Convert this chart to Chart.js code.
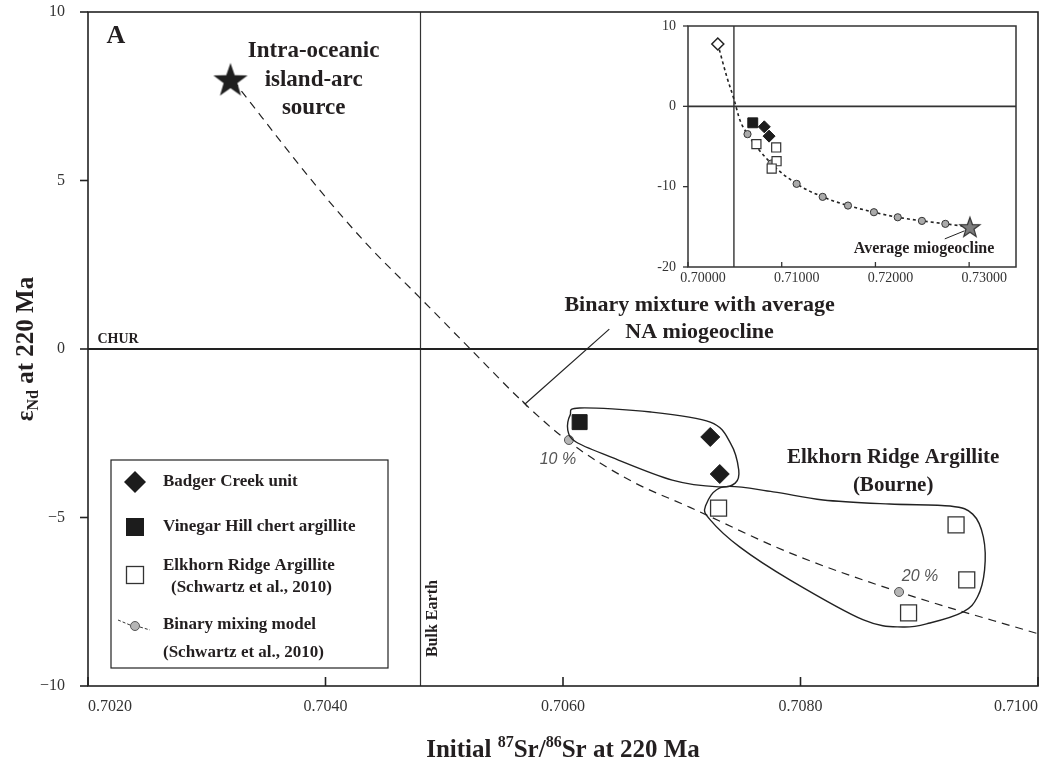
<!DOCTYPE html>
<html><head><meta charset="utf-8">
<script src="https://cdn.jsdelivr.net/npm/chart.js@4.4.1/dist/chart.umd.min.js"></script>
<style>
html,body{margin:0;padding:0;background:#fff;}
#wrap{position:relative;width:1053px;height:766px;overflow:hidden;}
#main{position:absolute;left:0;top:0;}
#inset{position:absolute;left:640px;top:0;}
</style></head><body>
<div id="wrap"><canvas id="main" width="1053" height="766"></canvas><canvas id="inset" width="400" height="300"></canvas></div>
<script>
// ================= DATA: main panel =================
const xTicks = [0.702, 0.704, 0.706, 0.708, 0.710];
const yTicks = [-10, -5, 0, 5, 10];
const sourceSr = [0.7032];
const sourceNd = [8.0];
const badgerSr = [0.70724, 0.70732];
const badgerNd = [-2.61, -3.71];
const vinegarSr = [0.70614];
const vinegarNd = [-2.17];
const elkhornSr = [0.70731, 0.70931, 0.70940, 0.70891];
const elkhornNd = [-4.72, -5.22, -6.85, -7.83];
const mixSr = [0.70605, 0.70883];
const mixNd = [-2.70, -7.21];
const mixLabels = ['10 %', '20 %'];
const curveSr = [0.70322, 0.70395, 0.70437, 0.70479, 0.70522, 0.70568, 0.70604, 0.70656, 0.70707, 0.70791, 0.70883, 0.71000];
const curveNd = [7.98, 4.72, 3.03, 1.54, 0.00, -1.63, -2.73, -3.89, -4.70, -6.05, -7.21, -8.45];
const churNd = 0;
const bulkEarthSr = 0.7048;
const loopBadgerSr = [0.70606, 0.70614, 0.70674, 0.70724, 0.70741, 0.70748, 0.70745, 0.70731, 0.70692, 0.70640, 0.70611, 0.70604];
const loopBadgerNd = [-1.96, -1.75, -1.87, -2.17, -2.79, -3.59, -3.98, -4.09, -3.89, -3.20, -2.76, -2.40];
const loopElkhornSr = [0.70720, 0.70735, 0.70777, 0.70819, 0.70875, 0.70926, 0.70945, 0.70954, 0.70955, 0.70949, 0.70937, 0.70909, 0.70886, 0.70853, 0.70791, 0.70749, 0.70724];
const loopElkhornNd = [-4.66, -4.09, -4.24, -4.48, -4.60, -4.66, -4.90, -5.58, -6.56, -7.36, -7.80, -8.13, -8.25, -8.04, -6.85, -5.88, -5.07];

// ================= DATA: inset =================
const insetXTicks = [0.70, 0.71, 0.72, 0.73];
const insetYTicks = [-20, -10, 0, 10];
const insetSourceSr = [0.70318];
const insetSourceNd = [7.76];
const insetVinegarSr = [0.70691];
const insetVinegarNd = [-2.05];
const insetBadgerSr = [0.70814, 0.70865];
const insetBadgerNd = [-2.55, -3.71];
const insetElkhornSr = [0.70730, 0.70941, 0.70945, 0.70893];
const insetElkhornNd = [-4.71, -5.12, -6.83, -7.74];
const insetMixSr = [0.70635, 0.70889, 0.71159, 0.71437, 0.71707, 0.71984, 0.72238, 0.72496, 0.72746];
const insetMixNd = [-3.46, -7.12, -9.65, -11.27, -12.35, -13.18, -13.81, -14.26, -14.63];
const insetMioSr = [0.73008];
const insetMioNd = [-15.01];
const insetCurveSr = [0.70318, 0.70416, 0.70491, 0.70555, 0.70635, 0.70889, 0.71159, 0.71437, 0.71707, 0.71984, 0.72238, 0.72496, 0.72746, 0.73008];
const insetCurveNd = [7.76, 3.6, 0.87, -1.74, -3.46, -7.12, -9.65, -11.27, -12.35, -13.18, -13.81, -14.26, -14.63, -15.01];
const insetBulkSr = 0.7049;
const insetChurNd = 0;

// ================= helpers =================
const SERIF = '"Liberation Serif", "Times New Roman", serif';
const SANS = '"Liberation Sans", Arial, sans-serif';
const INK = '#231f20';
Chart.defaults.font.family = SERIF;
const pts = (xs, ys) => xs.map((x, i) => ({x: x, y: ys[i]}));

function starCanvas(R, fill, stroke, lw) {
  const s = Math.ceil(2 * R + 2 * lw + 2);
  const c = document.createElement('canvas');
  c.width = s; c.height = s;
  const g = c.getContext('2d');
  const cx = s / 2, cy = s / 2 + R * 0.09;
  g.beginPath();
  for (let i = 0; i < 10; i++) {
    const r = i % 2 === 0 ? R : R * 0.40;
    const a = -Math.PI / 2 + i * Math.PI / 5;
    const px = cx + r * Math.cos(a), py = cy + r * Math.sin(a);
    if (i === 0) g.moveTo(px, py); else g.lineTo(px, py);
  }
  g.closePath();
  g.fillStyle = fill; g.fill();
  if (lw > 0) { g.strokeStyle = stroke; g.lineWidth = lw; g.lineJoin = 'miter'; g.stroke(); }
  return c;
}

function line(ctx, x1, y1, x2, y2) { ctx.beginPath(); ctx.moveTo(x1, y1); ctx.lineTo(x2, y2); ctx.stroke(); }

function drawClosedSpline(ctx, P) {
  const n = P.length;
  ctx.beginPath();
  ctx.moveTo(P[0][0], P[0][1]);
  for (let i = 0; i < n; i++) {
    const p0 = P[(i - 1 + n) % n], p1 = P[i], p2 = P[(i + 1) % n], p3 = P[(i + 2) % n];
    ctx.bezierCurveTo(p1[0] + (p2[0] - p0[0]) / 6, p1[1] + (p2[1] - p0[1]) / 6,
                      p2[0] - (p3[0] - p1[0]) / 6, p2[1] - (p3[1] - p1[1]) / 6, p2[0], p2[1]);
  }
  ctx.closePath();
  ctx.stroke();
}

// parts: [text, fontSize, dy]
function drawRich(ctx, parts, cx, by, weight) {
  let w = 0;
  parts.forEach(p => { ctx.font = weight + ' ' + p[1] + 'px ' + SERIF; p.w = ctx.measureText(p[0]).width; w += p.w; });
  let x = cx - w / 2;
  ctx.textAlign = 'left'; ctx.textBaseline = 'alphabetic';
  parts.forEach(p => { ctx.font = weight + ' ' + p[1] + 'px ' + SERIF; ctx.fillText(p[0], x, by + p[2]); x += p.w; });
}

function text(ctx, t, x, y, font, align) {
  ctx.font = font; ctx.textAlign = align || 'center'; ctx.textBaseline = 'middle'; ctx.fillText(t, x, y);
}

// ================= main chart =================
const mainDecor = {
  id: 'mainDecor',
  afterDatasetsDraw(chart) {
    const ctx = chart.ctx, ca = chart.chartArea, sx = chart.scales.x, sy = chart.scales.y;
    const P = (x, y) => [sx.getPixelForValue(x), sy.getPixelForValue(y)];
    ctx.save();
    // loops
    ctx.strokeStyle = '#222'; ctx.lineWidth = 1.4;
    drawClosedSpline(ctx, loopBadgerSr.map((x, i) => P(x, loopBadgerNd[i])));
    drawClosedSpline(ctx, loopElkhornSr.map((x, i) => P(x, loopElkhornNd[i])));
    // frame
    ctx.strokeStyle = '#222'; ctx.lineWidth = 1.6;
    ctx.strokeRect(ca.left, ca.top, ca.width, ca.height);
    yTicks.forEach(v => { const yy = sy.getPixelForValue(v); line(ctx, ca.left - 8, yy, ca.left, yy); });
    xTicks.forEach(v => { const xx = sx.getPixelForValue(v); line(ctx, xx, ca.bottom, xx, ca.bottom - 9); });
    // leader line for "Binary mixture"
    const a = P(0.70568, -1.63), b = P(0.70639, 0.59);
    ctx.lineWidth = 1.2;
    line(ctx, a[0], a[1], b[0], b[1]);
    const dx = b[0] - a[0], dy = b[1] - a[1], L = Math.hypot(dx, dy);
    const nx = -dy / L * 4, ny = dx / L * 4;
    line(ctx, a[0] - nx, a[1] - ny, a[0] + nx, a[1] + ny);

    ctx.fillStyle = INK;
    text(ctx, 'A', ca.left + 28, ca.top + 24, 'bold 26px ' + SERIF);
    const f22 = 'bold 22px ' + SERIF;
    let q = P(0.70390, 8.84); text(ctx, 'Intra-oceanic', q[0], q[1], 'bold 23px ' + SERIF);
    q = P(0.70390, 7.98); text(ctx, 'island-arc', q[0], q[1], 'bold 23px ' + SERIF);
    q = P(0.70390, 7.15); text(ctx, 'source', q[0], q[1], 'bold 23px ' + SERIF);
    q = P(0.70715, 1.31); text(ctx, 'Binary mixture with average', q[0], q[1], f22);
    q = P(0.70715, 0.50); text(ctx, 'NA miogeocline', q[0], q[1], f22);
    q = P(0.70878, -3.23); text(ctx, 'Elkhorn Ridge Argillite', q[0], q[1], 'bold 21px ' + SERIF);
    q = P(0.70878, -4.04); text(ctx, '(Bourne)', q[0], q[1], 'bold 21px ' + SERIF);
    q = P(0.70208, churNd); text(ctx, 'CHUR', q[0], q[1] - 10, 'bold 14px ' + SERIF, 'left');
    q = P(bulkEarthSr, -8.0);
    ctx.save(); ctx.translate(q[0] + 12, q[1]); ctx.rotate(-Math.PI / 2);
    text(ctx, 'Bulk Earth', 0, 0, 'bold 16px ' + SERIF); ctx.restore();
    ctx.fillStyle = '#555';
    q = P(mixSr[0], mixNd[0]); text(ctx, mixLabels[0], q[0] - 11, q[1] + 20, 'italic 16px ' + SANS);
    q = P(mixSr[1], mixNd[1]); text(ctx, mixLabels[1], q[0] + 21, q[1] - 15, 'italic 16px ' + SANS);

    // legend
    const bx = ca.left + 23, by = ca.bottom - 226, bw = 277, bh = 208;
    ctx.strokeStyle = '#222'; ctx.lineWidth = 1.2;
    ctx.fillStyle = '#fff'; ctx.fillRect(bx, by, bw, bh); ctx.strokeRect(bx, by, bw, bh);
    const sxp = bx + 24, tx = bx + 52;
    ctx.fillStyle = '#1c1c1c';
    let cy = by + 22;
    ctx.beginPath(); ctx.moveTo(sxp - 11, cy); ctx.lineTo(sxp, cy - 11); ctx.lineTo(sxp + 11, cy); ctx.lineTo(sxp, cy + 11); ctx.closePath(); ctx.fill();
    cy = by + 67; ctx.fillRect(sxp - 9, cy - 9, 18, 18);
    cy = by + 115; ctx.fillStyle = '#fff'; ctx.fillRect(sxp - 8.5, cy - 8.5, 17, 17);
    ctx.strokeStyle = '#333'; ctx.lineWidth = 1.3; ctx.strokeRect(sxp - 8.5, cy - 8.5, 17, 17);
    cy = by + 166;
    ctx.strokeStyle = '#333'; ctx.lineWidth = 1; ctx.setLineDash([3, 2]);
    line(ctx, sxp - 17, cy - 6, sxp - 5, cy - 1); line(ctx, sxp + 5, cy + 1, sxp + 15, cy + 4);
    ctx.setLineDash([]);
    ctx.beginPath(); ctx.arc(sxp, cy, 4.5, 0, Math.PI * 2); ctx.fillStyle = '#b5b5b5'; ctx.fill(); ctx.strokeStyle = '#555'; ctx.stroke();
    ctx.fillStyle = INK;
    const lf = 'bold 17px ' + SERIF;
    text(ctx, 'Badger Creek unit', tx, by + 22, lf, 'left');
    text(ctx, 'Vinegar Hill chert argillite', tx, by + 67, lf, 'left');
    text(ctx, 'Elkhorn Ridge Argillite', tx, by + 106, lf, 'left');
    text(ctx, '(Schwartz et al., 2010)', tx + 8, by + 128, lf, 'left');
    text(ctx, 'Binary mixing model', tx, by + 165, lf, 'left');
    text(ctx, '(Schwartz et al., 2010)', tx, by + 193, lf, 'left');

    // axis titles
    ctx.fillStyle = INK;
    drawRich(ctx, [['Initial ', 25, 0], ['87', 16, -10], ['Sr/', 25, 0], ['86', 16, -10], ['Sr at 220 Ma', 25, 0]], (ca.left + ca.right) / 2, 757, 'bold');
    ctx.save(); ctx.translate(33, (ca.top + ca.bottom) / 2); ctx.rotate(-Math.PI / 2);
    drawRich(ctx, [['\u03b5', 25, 0], ['Nd', 16, 5], [' at 220 Ma', 25, 0]], 0, 0, 'bold');
    ctx.restore();
    ctx.restore();
  }
};

const markInk = '#1c1c1c';
const fitX = h => s => { s.height = h; s.paddingLeft = 0; s.paddingRight = 0; };
const fitY = w => s => { s.width = w; s.paddingTop = 0; s.paddingBottom = 0; };

new Chart(document.getElementById('main'), {
  type: 'scatter',
  data: {
    datasets: [
      {label: 'Intra-oceanic island-arc source', data: pts(sourceSr, sourceNd), pointStyle: starCanvas(18, '#1f1f1f', '#1f1f1f', 0), pointRadius: 18},
      {label: 'Badger Creek unit', data: pts(badgerSr, badgerNd), pointStyle: 'rectRot', pointRadius: 9.5, backgroundColor: markInk, borderColor: markInk, borderWidth: 1},
      {label: 'Vinegar Hill chert argillite', data: pts(vinegarSr, vinegarNd), pointStyle: 'rect', pointRadius: 10.6, backgroundColor: markInk, borderColor: markInk, borderWidth: 1},
      {label: 'Elkhorn Ridge Argillite', data: pts(elkhornSr, elkhornNd), pointStyle: 'rect', pointRadius: 11.3, backgroundColor: '#fff', borderColor: '#333', borderWidth: 1.3},
      {label: 'Binary mixing model', data: pts(mixSr, mixNd), pointStyle: 'circle', pointRadius: 4.5, backgroundColor: '#b5b5b5', borderColor: '#555', borderWidth: 1},
      {label: 'mixing curve', data: pts(curveSr, curveNd), showLine: true, pointRadius: 0, borderColor: '#222', borderWidth: 1.2, borderDash: [8, 6], cubicInterpolationMode: 'monotone', fill: false},
      {label: 'CHUR', data: [{x: xTicks[0], y: churNd}, {x: xTicks[xTicks.length - 1], y: churNd}], showLine: true, pointRadius: 0, borderColor: '#222', borderWidth: 2},
      {label: 'Bulk Earth', data: [{x: bulkEarthSr, y: yTicks[0]}, {x: bulkEarthSr, y: yTicks[yTicks.length - 1]}], showLine: true, pointRadius: 0, borderColor: '#333', borderWidth: 1.2}
    ]
  },
  options: {
    responsive: false, animation: false, devicePixelRatio: 1,
    layout: {autoPadding: false, padding: {left: 0, top: 12, right: 15, bottom: 0}},
    plugins: {legend: {display: false}, tooltip: {enabled: false}},
    events: [],
    scales: {
      x: {type: 'linear', position: 'bottom', min: 0.702, max: 0.710,
        afterBuildTicks: s => { s.ticks = xTicks.map(v => ({value: v})); },
        afterFit: fitX(80),
        grid: {display: false, drawTicks: false}, border: {display: false},
        ticks: {callback: v => Number(v).toFixed(4), align: 'inner', padding: 11, maxRotation: 0, autoSkip: false, color: '#333', font: {size: 16, family: SERIF}}},
      y: {type: 'linear', position: 'left', min: -10, max: 10,
        afterBuildTicks: s => { s.ticks = yTicks.map(v => ({value: v})); },
        afterFit: fitY(88),
        grid: {display: false, drawTicks: false}, border: {display: false},
        ticks: {callback: v => (v < 0 ? '\u2212' + Math.abs(v) : String(v)), padding: 23, color: '#333', font: {size: 16, family: SERIF}}}
    }
  },
  plugins: [mainDecor]
});

// ================= inset chart =================
const insetDecor = {
  id: 'insetDecor',
  afterDatasetsDraw(chart) {
    const ctx = chart.ctx, ca = chart.chartArea, sx = chart.scales.x, sy = chart.scales.y;
    ctx.save();
    ctx.strokeStyle = '#333'; ctx.lineWidth = 1.5;
    ctx.strokeRect(ca.left, ca.top, ca.width, ca.height);
    ctx.lineWidth = 1.3;
    insetYTicks.forEach(v => { const yy = sy.getPixelForValue(v); line(ctx, ca.left - 5, yy, ca.left, yy); });
    insetXTicks.forEach(v => { const xx = sx.getPixelForValue(v); line(ctx, xx, ca.bottom, xx, ca.bottom - 5); });
    const a = [sx.getPixelForValue(0.7274), sy.getPixelForValue(-16.5)], b = [sx.getPixelForValue(0.7295), sy.getPixelForValue(-15.5)];
    ctx.lineWidth = 1; ctx.strokeStyle = '#222';
    line(ctx, a[0], a[1], b[0], b[1]);
    ctx.fillStyle = INK;
    text(ctx, 'Average miogeocline', sx.getPixelForValue(0.72519), sy.getPixelForValue(-17.8), 'bold 16px ' + SERIF);
    ctx.restore();
  }
};

new Chart(document.getElementById('inset'), {
  type: 'scatter',
  data: {
    datasets: [
      {label: 'source', data: pts(insetSourceSr, insetSourceNd), pointStyle: 'rectRot', pointRadius: 6, backgroundColor: '#fff', borderColor: '#222', borderWidth: 1.5},
      {label: 'Badger Creek unit', data: pts(insetBadgerSr, insetBadgerNd), pointStyle: 'rectRot', pointRadius: 6, backgroundColor: markInk, borderColor: markInk, borderWidth: 1},
      {label: 'Vinegar Hill chert argillite', data: pts(insetVinegarSr, insetVinegarNd), pointStyle: 'rect', pointRadius: 7, backgroundColor: markInk, borderColor: markInk, borderWidth: 1},
      {label: 'Elkhorn Ridge Argillite', data: pts(insetElkhornSr, insetElkhornNd), pointStyle: 'rect', pointRadius: 6.4, backgroundColor: '#fff', borderColor: '#333', borderWidth: 1.2},
      {label: 'Average miogeocline', data: pts(insetMioSr, insetMioNd), pointStyle: starCanvas(10.5, '#7d7d7d', '#333', 1.2), pointRadius: 10},
      {label: 'Binary mixing model', data: pts(insetMixSr, insetMixNd), pointStyle: 'circle', pointRadius: 3.6, backgroundColor: '#aaa', borderColor: '#333', borderWidth: 1},
      {label: 'mixing curve', data: pts(insetCurveSr, insetCurveNd), showLine: true, pointRadius: 0, borderColor: '#222', borderWidth: 1.6, borderDash: [3, 3], cubicInterpolationMode: 'monotone', fill: false},
      {label: 'CHUR', data: [{x: 0.70, y: insetChurNd}, {x: 0.735, y: insetChurNd}], showLine: true, pointRadius: 0, borderColor: '#333', borderWidth: 1.6},
      {label: 'Bulk Earth', data: [{x: insetBulkSr, y: -20}, {x: insetBulkSr, y: 10}], showLine: true, pointRadius: 0, borderColor: '#333', borderWidth: 1.4}
    ]
  },
  options: {
    responsive: false, animation: false, devicePixelRatio: 1,
    layout: {autoPadding: false, padding: {left: 0, top: 26, right: 24, bottom: 0}},
    plugins: {legend: {display: false}, tooltip: {enabled: false}},
    events: [],
    scales: {
      x: {type: 'linear', position: 'bottom', min: 0.70, max: 0.735,
        afterBuildTicks: s => { s.ticks = insetXTicks.map(v => ({value: v})); },
        afterFit: fitX(33),
        grid: {display: false, drawTicks: false}, border: {display: false},
        ticks: {callback: v => Number(v).toFixed(5), labelOffset: 15, padding: 3, maxRotation: 0, autoSkip: false, color: '#333', font: {size: 14, family: SERIF}}},
      y: {type: 'linear', position: 'left', min: -20, max: 10,
        afterBuildTicks: s => { s.ticks = insetYTicks.map(v => ({value: v})); },
        afterFit: fitY(48),
        grid: {display: false, drawTicks: false}, border: {display: false},
        ticks: {callback: v => String(v), padding: 12, color: '#333', font: {size: 14, family: SERIF}}}
    }
  },
  plugins: [insetDecor]
});
</script>
</body></html>
